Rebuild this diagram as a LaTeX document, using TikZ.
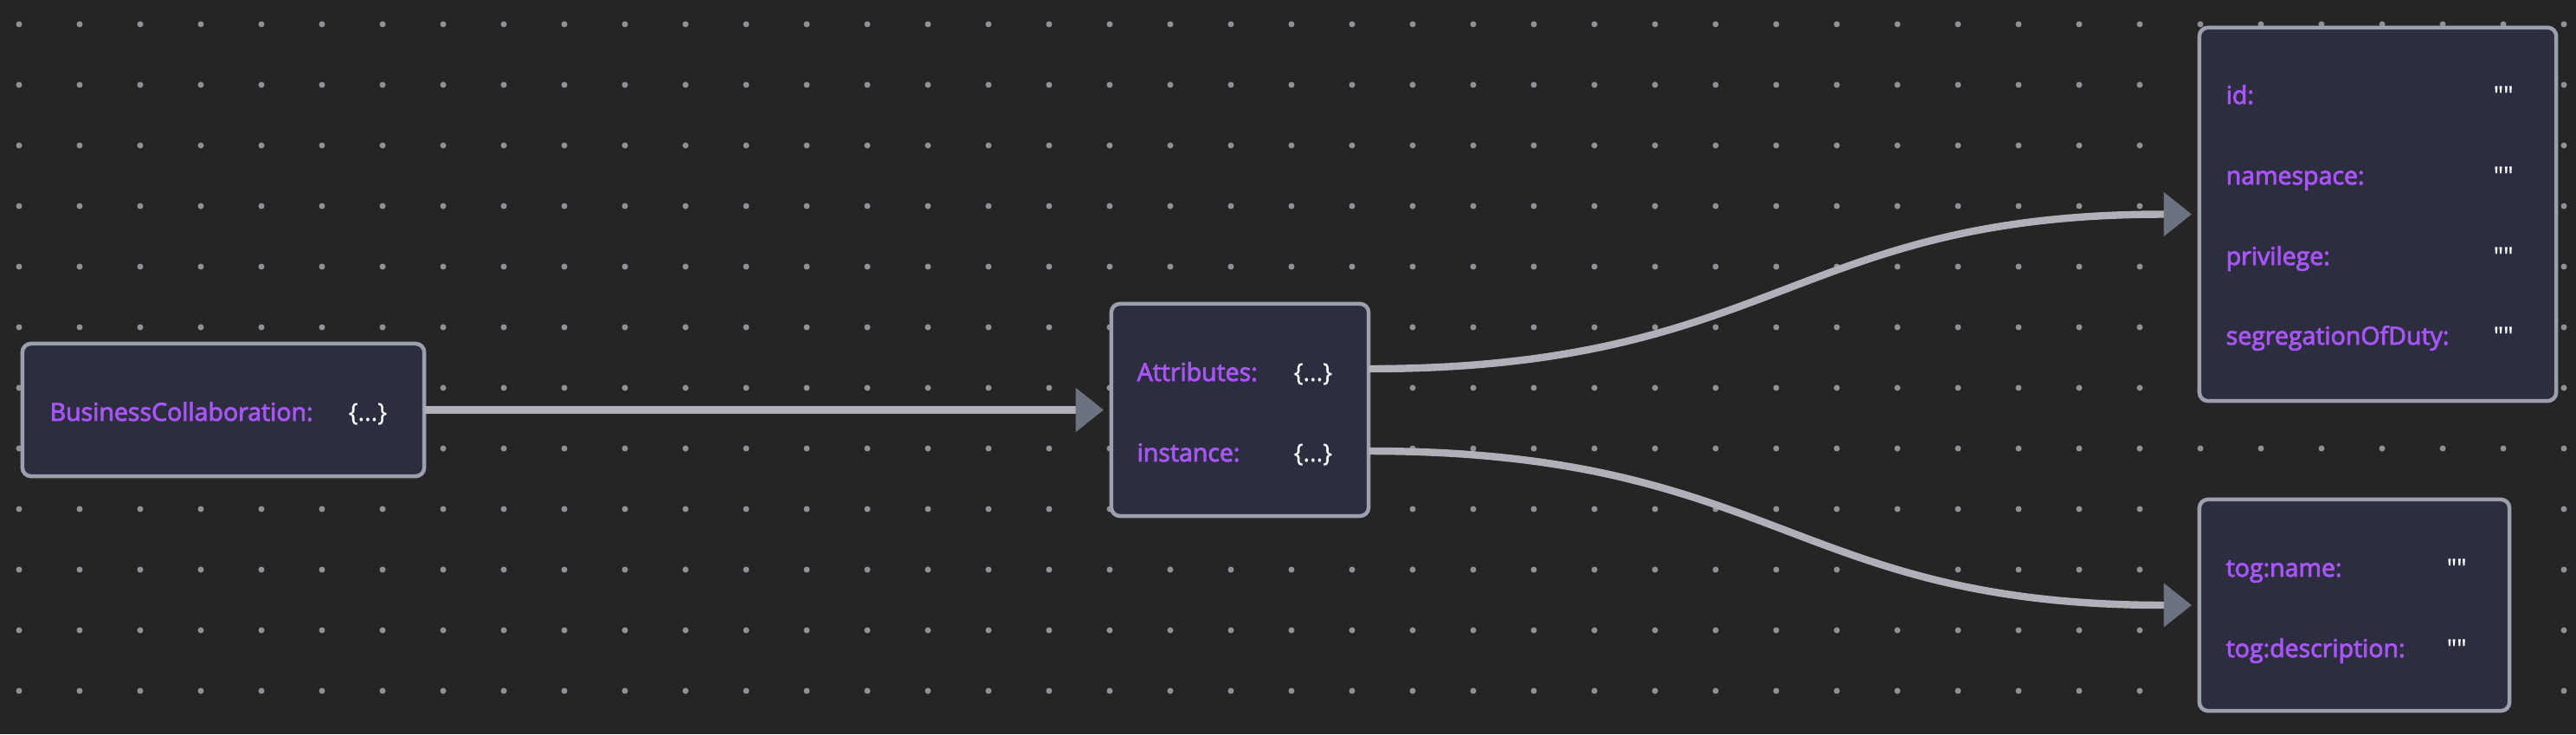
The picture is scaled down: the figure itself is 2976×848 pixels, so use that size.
\documentclass[tikz,border=0pt]{standalone}
\usepackage{fontspec}
\setmainfont{Open Sans}
\newfontfamily\labfont{Open Sans}[FakeBold=3]
\newfontfamily\valfont{Open Sans}[FakeBold=0.6]
\usetikzlibrary{arrows.meta,calc}
\definecolor{bg}{HTML}{252525}
\definecolor{dotc}{HTML}{909096}
\definecolor{boxfill}{HTML}{2C2D3F}
\definecolor{boxline}{HTML}{9AA0AC}
\definecolor{labc}{HTML}{A855F7}
\definecolor{edgec}{HTML}{B0B0B8}
\definecolor{arrowc}{HTML}{6B7280}
\tikzset{
  box/.style={draw=boxline, fill=boxfill, line width=1.28pt, rounded corners=2.8pt, rectangle, inner sep=0pt, outer sep=0pt},
  lab/.style={font={\labfont\fontsize{8.1pt}{9.7pt}\selectfont}, text=labc, anchor=base west, inner sep=0pt},
  val/.style={font={\valfont\fontsize{8.1pt}{9.7pt}\selectfont}, text=white, anchor=base west, inner sep=0pt},
  edge/.style={draw=edgec, line width=2.4pt, shorten >=2.6pt, -{Triangle[length=9.1pt,width=14.5pt,line width=0.01pt,fill=arrowc,color=arrowc]}}
}
\begin{document}
\begin{tikzpicture}[x=0.01cm,y=-0.01cm]
\fill[bg] (0,0) rectangle (2976,848);
\useasboundingbox (0,0) rectangle (2976,848);
\foreach \i in {0,...,42} {\foreach \j in {0,...,11} {\fill[dotc] (22+70*\i,28+70*\j) circle[radius=3.5];}}
% boxes
\node[box, minimum width=4.64cm, minimum height=1.53cm] (n1) at (258,473.5) {};
\node[box, minimum width=2.97cm, minimum height=2.45cm] (n2) at (1432.5,473.5) {};
\node[box, minimum width=4.12cm, minimum height=4.31cm] (n3) at (2747,247.5) {};
\node[box, minimum width=3.58cm, minimum height=2.44cm] (n4) at (2720,699) {};
% texts
\node[lab] (t1) at (57,486) {BusinessCollaboration:};
\node[val] (v1) at (402,486) {\{...\}};
\node[lab] (t2a) at (1313,440) {Attributes:};
\node[val] (v2a) at (1494,440) {\{...\}};
\node[lab] (t2b) at (1313,533) {instance:};
\node[val] (v2b) at (1494,533) {\{...\}};
\node[lab] (t3a) at (2571,120) {id:};
\node[val] (v3a) at (2880,120) {""};
\node[lab] (t3b) at (2571,213) {namespace:};
\node[val] (v3b) at (2880,213) {""};
\node[lab] (t3c) at (2571,306) {privilege:};
\node[val] (v3c) at (2880,306) {""};
\node[lab] (t3d) at (2571,398) {segregationOfDuty:};
\node[val] (v3d) at (2880,398) {""};
\node[lab] (t4a) at (2571,666) {tog:name:};
\node[val] (v4a) at (2826,666) {""};
\node[lab] (t4b) at (2571,759) {tog:description:};
\node[val] (v4b) at (2826,759) {""};
% edges
\draw[edge] (n1.east) -- (n2.west);
\draw[edge] ($(n2.east)+(0,-47.5)$) .. controls +(470,0) and +(-470,0) .. (n3.west);
\draw[edge] ($(n2.east)+(0,47.5)$) .. controls +(470,0) and +(-470,0) .. (n4.west);
\end{tikzpicture}
\end{document}
